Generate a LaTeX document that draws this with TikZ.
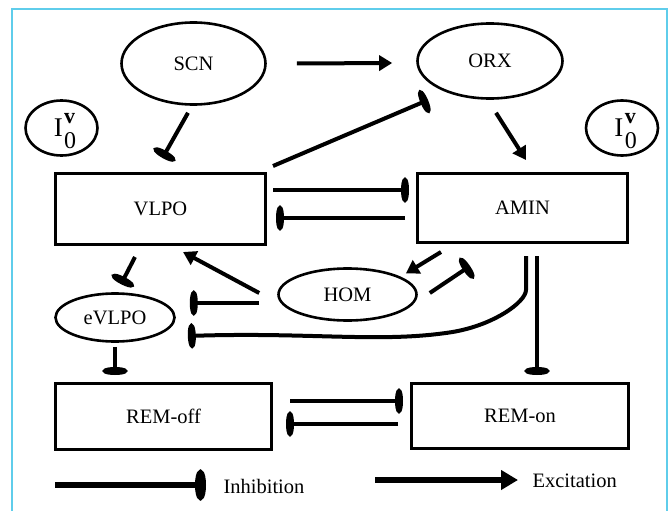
\documentclass[tikz,border=0pt]{standalone}
\usepackage{fontspec}
\setmainfont{Liberation Serif}
\usetikzlibrary{arrows.meta,shapes.geometric,calc}
\definecolor{framecyan}{RGB}{95,205,235}
\newcommand{\izerov}{\hspace*{7pt}{\fontsize{27}{27}\selectfont I}\kern1.5pt\rlap{\raisebox{13pt}[0pt][0pt]{\fontsize{22}{22}\selectfont\bfseries v}}\raisebox{-12pt}[0pt][0pt]{\fontsize{24}{24}\selectfont 0}}
\begin{document}
\begin{tikzpicture}[x=1pt,y=-1pt,
  lbl/.style={font=\fontsize{20.5}{24}\selectfont},
  box/.style={draw,line width=3pt,rectangle,inner sep=0pt,lbl},
  oval/.style={draw,line width=2.6pt,ellipse,inner sep=0pt,lbl},
  conn/.style={line width=4pt},
  exc/.style={conn,-{Triangle[length=13pt,width=15pt]}},
  inh/.style={conn,-{Ellipse[length=8pt,width=24pt]}},
]
\useasboundingbox (0,0) rectangle (669,511);
\fill[white] (0,0) rectangle (669,511);
\draw[framecyan,line width=1.5pt] (12,511) -- (12,9) -- (667,9) -- (667,511);

% nodes
\node[oval,minimum width=144pt,minimum height=82pt] (SCN) at (193.5,63.5) {SCN};
\node[oval,minimum width=145pt,minimum height=75pt] (ORX) at (490,61) {ORX};
\node[oval,minimum width=72pt,minimum height=55pt] (I0L) at (61.5,128) {\izerov};
\node[oval,minimum width=72pt,minimum height=55pt] (I0R) at (622,128) {\izerov};
\node[box,minimum width=210pt,minimum height=71pt] (VLPO) at (160.5,209) {VLPO};
\node[box,minimum width=210pt,minimum height=69pt] (AMIN) at (522.5,208) {AMIN};
\node[oval,minimum width=119pt,minimum height=48pt] (eVLPO) at (115,317.5) {eVLPO};
\node[oval,minimum width=138pt,minimum height=52pt] (HOM) at (347.5,294.5) {HOM};
\node[box,minimum width=216pt,minimum height=66pt] (REMoff) at (163.5,416.5) {REM-off};
\node[box,minimum width=217pt,minimum height=65pt] (REMon) at (520,416) {REM-on};

% connectors
\draw[exc] ($(SCN.east)+(30,0)$) -- ($(ORX.west)+(-24,2)$);
\draw[inh] ($(SCN.south)+(-5.5,7)$) -- ($(VLPO.north)+(2,-14)$);
\draw[inh] ($(VLPO.north east)+(6,-6)$) -- ($(ORX.center)+(-62,39)$);
\draw[exc] ($(ORX.south)+(6,13)$) -- ($(AMIN.north)+(3.5,-12)$);
\draw[inh] ($(VLPO.east)+(6,-19)$) -- ($(AMIN.west)+(-7,-18)$);
\draw[inh] ($(AMIN.west)+(-11,10)$) -- ($(VLPO.east)+(9,9)$);
\draw[inh] ($(VLPO.south)+(-25.5,11)$) -- ($(eVLPO.north)+(6,-8)$);
\draw[exc] ($(HOM.west)+(-18,-1.5)$) -- ($(VLPO.south)+(22.5,6)$);
\draw[inh] ($(HOM.west)+(-18,8.5)$) -- ($(eVLPO.east)+(14,-14.5)$);
\draw[inh] ($(AMIN.south)+(3.5,12)$) -- ++(0,34)
  .. controls +(0,12) and +(45,-6) .. ($(HOM.south east)+(50,19)$)
  .. controls +(-70,10) and +(120,-4) .. ($(eVLPO.east)+(12,18.5)$);
\draw[exc] ($(AMIN.south west)+(25,8)$) -- ($(HOM.east)+(-12,-21)$);
\draw[inh] ($(HOM.east)+(12,-1.5)$) -- ($(AMIN.south)+(-52.5,22)$);
\draw[inh] ($(AMIN.south)+(14.5,12)$) -- ($(REMon.north)+(17,-7)$);
\draw[inh] ($(eVLPO.south)+(0,4)$) -- ($(REMoff.north)+(-48.5,-7)$);
\draw[inh] ($(REMoff.east)+(17,-15.5)$) -- ($(REMon.west)+(-7,-15)$);
\draw[inh] ($(REMon.west)+(-12,8)$) -- ($(REMoff.east)+(13,7.5)$);

% legend
\coordinate (li1) at (55,485);
\coordinate (li2) at (206,485);
\coordinate (le1) at (375,480);
\coordinate (le2) at (518,480);
\draw[line width=6pt,-{Ellipse[length=11pt,width=30pt]}] (li1) -- (li2);
\draw[line width=6pt,-{Triangle[length=17pt,width=19pt]}] (le1) -- (le2);
\node[lbl,anchor=west] (inhtxt) at (220,486) {Inhibition};
\node[lbl,anchor=west] (exctxt) at (529,481) {Excitation};
\end{tikzpicture}
\end{document}
